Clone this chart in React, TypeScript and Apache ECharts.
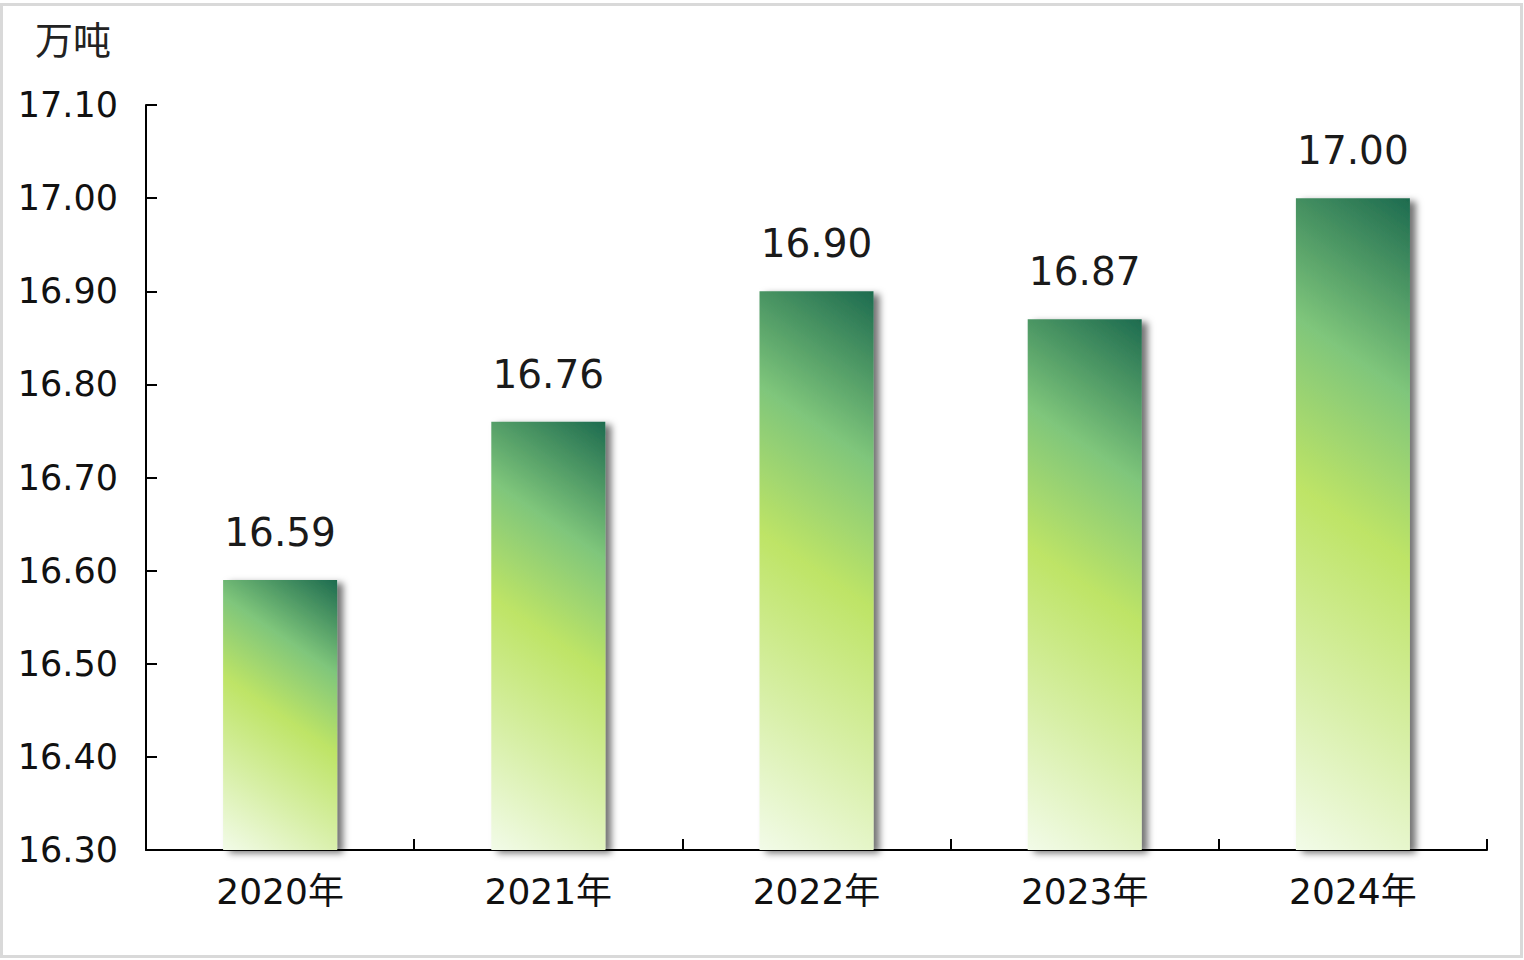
import React, { useEffect, useRef } from "react";
import * as echarts from "echarts";

const categories = ["2020年", "2021年", "2022年", "2023年", "2024年"];
const values = [16.59, 16.76, 16.9, 16.87, 17.0];
const yMin = 16.3;
const yMax = 17.1;
const yInterval = 0.1;
const unitLabel = "万吨";

const FONT = "DejaVu Sans, 'Noto Sans CJK SC', sans-serif";

function barGradient(v: number) {
  // fixed-angle diagonal gradient, expressed in the bar's bounding box
  const plotH = 745;
  const barW = 114;
  const h = Math.max(1, ((v - yMin) / (yMax - yMin)) * plotH);
  const slope = 0.68;
  const k = (slope * barW) / h;
  const f = (k + 1) / (k * k + 1);
  const x2 = k * f;
  const y2 = 1 - f;
  return new echarts.graphic.LinearGradient(0, 1, x2, y2, [
    { offset: 0, color: "#f2fbe8" },
    { offset: 0.25, color: "#d7efa6" },
    { offset: 0.5, color: "#bee466" },
    { offset: 0.73, color: "#7fc67b" },
    { offset: 1, color: "#1d6b4f" },
  ]);
}

export default function App() {
  const ref = useRef<HTMLDivElement>(null);
  useEffect(() => {
    if (!ref.current) return;
    const chart = echarts.init(ref.current, null, { renderer: "svg" });
    chart.setOption({
      animation: false,
      backgroundColor: "#ffffff",
      grid: { left: 146, right: 37, top: 105, bottom: 110, containLabel: false },
      graphic: [
        {
          type: "rect",
          shape: { x: 1.5, y: 4.5, width: 1520, height: 952 },
          style: { fill: "none", stroke: "#d9d9d9", lineWidth: 3 },
          silent: true,
        },
        {
          type: "text",
          x: 73,
          y: 37,
          style: {
            text: unitLabel,
            font: `38px 'Noto Sans CJK SC', sans-serif`,
            fill: "#222222",
            textAlign: "center",
            textVerticalAlign: "middle",
          },
        },
      ],
      xAxis: {
        type: "category",
        data: categories,
        boundaryGap: true,
        axisLine: { show: true, lineStyle: { color: "#000", width: 2 } },
        axisTick: { show: true, inside: true, length: 11, lineStyle: { color: "#000", width: 2 } },
        axisLabel: {
          color: "#111",
          fontSize: 36,
          fontFamily: FONT,
          margin: 23,
        },
        splitLine: { show: false },
      },
      yAxis: {
        type: "value",
        min: yMin,
        max: yMax,
        interval: yInterval,
        axisLine: { show: true, lineStyle: { color: "#000", width: 2 } },
        axisTick: { show: true, inside: true, length: 11, lineStyle: { color: "#000", width: 2 } },
        axisLabel: {
          color: "#111",
          fontSize: 35,
          fontFamily: FONT,
          margin: 28,
          formatter: (v: number) => v.toFixed(2),
        },
        splitLine: { show: false },
      },
      series: [
        {
          type: "bar",
          barWidth: 114,
          data: values.map((v) => ({
            value: v,
            itemStyle: {
              color: barGradient(v),
              shadowColor: "rgba(0,0,0,0.55)",
              shadowBlur: 7,
              shadowOffsetX: 6,
              shadowOffsetY: 3,
            },
          })),
          label: {
            show: true,
            position: "top",
            distance: 28,
            color: "#1a1a1a",
            fontSize: 39,
            fontFamily: FONT,
            formatter: (p: any) => Number(p.value).toFixed(2),
          },
        },
      ],
    });
    return () => chart.dispose();
  }, []);
  return (
    <div
      ref={ref}
      style={{ position: "fixed", left: 0, top: 0, width: 1524, height: 960, background: "#fff" }}
    />
  );
}
